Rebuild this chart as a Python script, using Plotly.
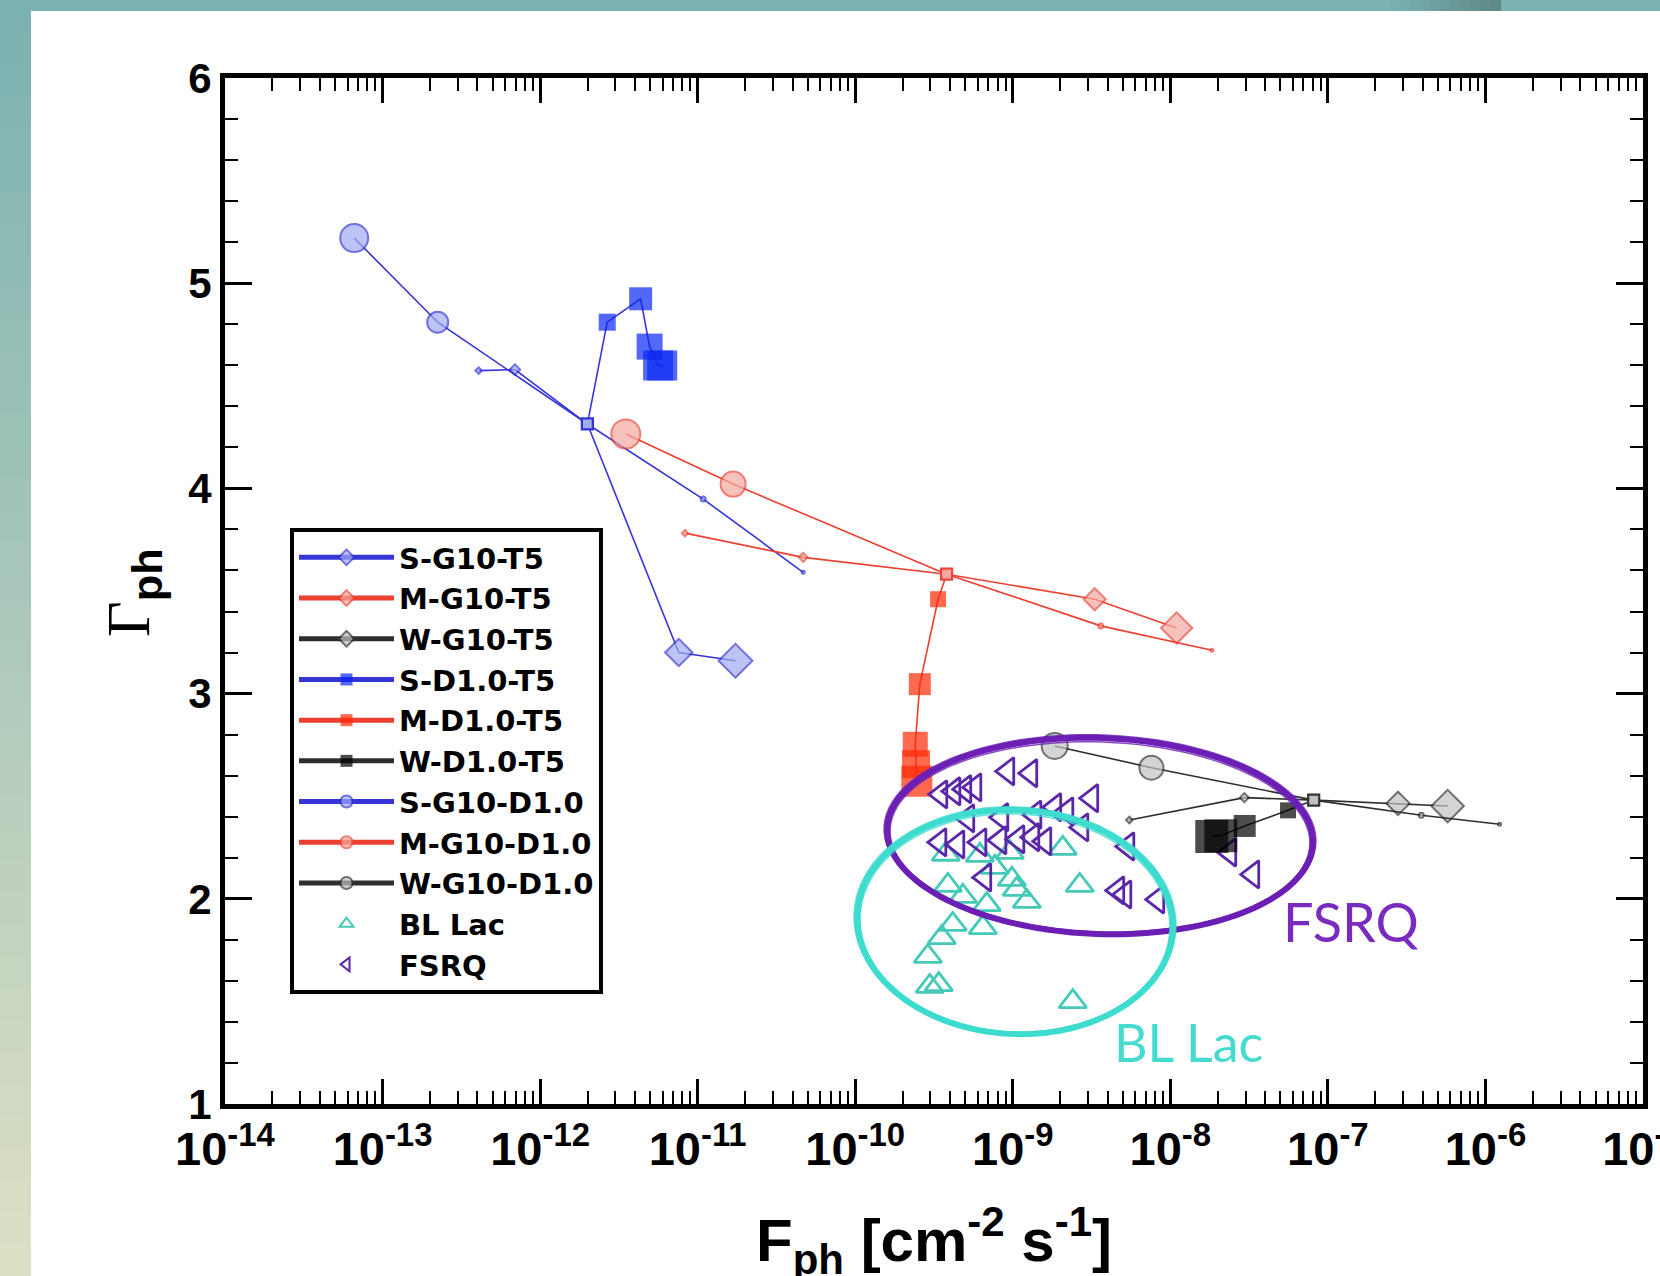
import math
import plotly.graph_objects as go

# ------------------------------------------------------------------
# DATA  (x values are log10 of photon flux F_ph, y values are Gamma_ph)
# ------------------------------------------------------------------
# common starting points of each model family
junction_logF = [-11.70, -9.42, -7.09]
junction_gamma = [4.314, 3.582, 2.481]

s_g10_t5_logF = [-12.39, -12.16, -11.70, -11.12, -10.76]
s_g10_t5_gamma = [4.574, 4.579, 4.314, 3.200, 3.160]
m_g10_t5_logF = [-11.08, -10.33, -9.42, -8.48, -7.96]
m_g10_t5_gamma = [3.782, 3.664, 3.582, 3.460, 3.320]
w_g10_t5_logF = [-8.26, -7.53, -7.09, -6.555, -6.24]
w_g10_t5_gamma = [2.384, 2.493, 2.481, 2.465, 2.452]

s_d10_t5_logF = [-11.70, -11.574, -11.362, -11.305, -11.251, -11.225]
s_d10_t5_gamma = [4.314, 4.810, 4.924, 4.691, 4.599, 4.599]
m_d10_t5_logF = [-9.42, -9.474, -9.590, -9.619, -9.614, -9.609]
m_d10_t5_gamma = [3.582, 3.460, 3.046, 2.753, 2.656, 2.573]
w_d10_t5_logF = [-7.09, -7.253, -7.528, -7.680, -7.737]
w_d10_t5_gamma = [2.481, 2.431, 2.355, 2.307, 2.304]

s_g10_d10_logF = [-10.33, -10.965, -11.70, -12.65, -13.18]
s_g10_d10_gamma = [3.591, 3.948, 4.314, 4.810, 5.220]
m_g10_d10_logF = [-7.736, -8.442, -9.42, -10.775, -11.456]
m_g10_d10_gamma = [3.211, 3.330, 3.582, 4.021, 4.265]
w_g10_d10_logF = [-5.91, -6.407, -7.09, -8.120, -8.734]
w_g10_d10_gamma = [2.363, 2.407, 2.481, 2.639, 2.745]

bllac_logF = [-9.425, -9.209, -9.019, -8.683, -9.412, -9.006, -8.575, -9.317,
              -8.975, -8.911, -9.165, -9.381, -9.190, -9.451, -9.539, -9.527,
              -9.470, -8.619, -9.114]
bllac_gamma = [2.217, 2.212, 2.226, 2.246, 2.065, 2.095, 2.065, 2.012,
               2.046, 1.987, 1.972, 1.875, 1.860, 1.811, 1.719, 1.573,
               1.582, 1.499, 2.153]

fsrq_logF = [-9.457, -9.374, -9.305, -9.241, -9.032, -8.886, -9.286, -9.070,
             -8.734, -8.499, -8.657, -8.562, -9.463, -9.349, -9.209, -9.082,
             -8.968, -8.873, -8.797, -9.178, -8.270, -8.334, -8.289, -8.080,
             -7.623, -7.477, -8.860]
fsrq_gamma = [2.509, 2.524, 2.534, 2.543, 2.621, 2.612, 2.392, 2.397,
              2.446, 2.490, 2.426, 2.348, 2.275, 2.265, 2.275, 2.285,
              2.290, 2.300, 2.280, 2.104, 2.255, 2.041, 2.021, 1.997,
              2.226, 2.119, 2.410]

x_tick_exponents = [-14, -13, -12, -11, -10, -9, -8, -7, -6, -5]
y_tick_values = [1, 2, 3, 4, 5, 6]

# marker sizes along each track (style)
size_g10_t5 = {"S": [5, 8, 0, 21, 26], "M": [5, 7, 0, 17, 24], "W": [5, 7, 0, 18, 25]}
size_d10_t5 = {"S": [0, 17, 23, 26, 30, 30], "M": [0, 16, 22, 25, 28, 31], "W": [0, 16, 22, 33, 33]}
size_g10_d10 = {"S": [3, 5, 0, 21, 28], "M": [3, 5, 0, 25, 29], "W": [3, 5, 0, 24, 26]}

# ------------------------------------------------------------------
W, H = 1660, 1276
PL, PR, PT, PB = 225, 1643, 78, 1104


def pxx(px):
    return (px - PL) / (PR - PL)


def pxy(py):
    return (PB - py) / (PB - PT)


COL = {
    "S": dict(line="#3535d8", hatch="#a2aaf0", edge="#3434d4", solid="#0a28f2"),
    "M": dict(line="#ec3f30", hatch="#f5a9a0", edge="#e8473a", solid="#ff2a05"),
    "W": dict(line="#2e2e2e", hatch="#c2c2c2", edge="#333333", solid="#000000"),
}
TEAL = "#45c9b8"
PURPLE = "#5a27a8"
SANS = "Liberation Sans"

fig = go.Figure()


def add_series(name, logF, gam, sizes, symbol, fam, kind, rank):
    c = COL[fam]
    if kind == "hatch":
        mk = dict(symbol=symbol, size=sizes, color=c["hatch"],
                  line=dict(color=c["edge"], width=2))
    else:
        mk = dict(symbol=symbol, size=sizes, color=c["solid"],
                  line=dict(color=c["solid"], width=0))
    fig.add_trace(go.Scatter(
        x=[10 ** v for v in logF], y=gam, name=name, mode="lines+markers",
        line=dict(color=c["line"], width=1.6), marker=mk, legendrank=rank))


rank_of = {"S": 0, "M": 1, "W": 2}


def add_family(f, a, b, c, d, e, g):
    r = rank_of[f]
    add_series(f"{f}-G10-T5", a, b, size_g10_t5[f], "diamond", f, "hatch", 1 + r)
    add_series(f"{f}-D1.0-T5", c, d, size_d10_t5[f], "square", f, "solid", 4 + r)
    add_series(f"{f}-G10-D1.0", e, g, size_g10_d10[f], "circle", f, "hatch", 7 + r)


add_family("S", s_g10_t5_logF, s_g10_t5_gamma, s_d10_t5_logF, s_d10_t5_gamma,
           s_g10_d10_logF, s_g10_d10_gamma)
add_family("M", m_g10_t5_logF, m_g10_t5_gamma, m_d10_t5_logF, m_d10_t5_gamma,
           m_g10_d10_logF, m_g10_d10_gamma)

fig.add_trace(go.Scatter(
    x=[10 ** v for v in bllac_logF], y=bllac_gamma, name="BL Lac", mode="markers",
    marker=dict(symbol="triangle-up-open", size=24, color=TEAL, line=dict(width=2.8)),
    legendrank=10))
fig.add_trace(go.Scatter(
    x=[10 ** v for v in fsrq_logF], y=fsrq_gamma, name="FSRQ", mode="markers",
    marker=dict(symbol="triangle-left-open", size=24, color=PURPLE, line=dict(width=2.8)),
    legendrank=11))

add_family("W", w_g10_t5_logF, w_g10_t5_gamma, w_d10_t5_logF, w_d10_t5_gamma,
           w_g10_d10_logF, w_g10_d10_gamma)

# starting-point markers
fig.add_trace(go.Scatter(
    x=[10 ** v for v in junction_logF], y=junction_gamma, mode="markers", showlegend=False,
    marker=dict(symbol="square", size=11, color=[COL[k]["hatch"] for k in "SMW"],
                line=dict(color=[COL[k]["edge"] for k in "SMW"], width=2.2))))

# ------------------------------------------------------------------
# decorations: page background strips, hand-drawn ellipses, labels
shapes = []
shapes.append(dict(type="rect", xref="paper", yref="paper", layer="below",
                   x0=pxx(0), x1=pxx(W), y0=pxy(11), y1=pxy(0),
                   fillcolor="#7cb3b2", line=dict(width=0)))
for i in range(12):
    t = i / 11
    col = (int(124 - 30 * t), int(179 - 40 * t), int(178 - 40 * t))
    shapes.append(dict(type="rect", xref="paper", yref="paper", layer="below",
                       x0=pxx(1380 + i * 10), x1=pxx(1391 + i * 10), y0=pxy(11), y1=pxy(0),
                       fillcolor="rgb(%d,%d,%d)" % col, line=dict(width=0)))
nstr = 40
c_top = (123, 178, 177)
c_bot = (221, 223, 196)
for i in range(nstr):
    t = i / (nstr - 1)
    col = tuple(int(round(c_top[k] + (c_bot[k] - c_top[k]) * t)) for k in range(3))
    y0 = H * i / nstr
    y1 = H * (i + 1) / nstr + 1
    shapes.append(dict(type="rect", xref="paper", yref="paper", layer="below",
                       x0=pxx(0), x1=pxx(31), y0=pxy(y1), y1=pxy(y0),
                       fillcolor="rgb(%d,%d,%d)" % col, line=dict(width=0)))


def ellipse_path(cx, cy, a, b, theta_deg, n=160):
    th = math.radians(theta_deg)
    pts = []
    for i in range(n + 1):
        t = 2 * math.pi * i / n
        x = cx + a * math.cos(t) * math.cos(th) - b * math.sin(t) * math.sin(th)
        y = cy + a * math.cos(t) * math.sin(th) + b * math.sin(t) * math.cos(th)
        pts.append((pxx(x), pxy(y)))
    return "M " + " L ".join("%.5f,%.5f" % p for p in pts) + " Z"


def brush(cx, cy, a, b, th, color):
    out = [dict(type="path", xref="paper", yref="paper", layer="above",
                path=ellipse_path(cx, cy, a, b, th), line=dict(color=color, width=6))]
    for da, db, dy, w in [(3, 2, -1, 1.5), (-3, -3, 1, 1.5)]:
        out.append(dict(type="path", xref="paper", yref="paper", layer="above",
                        path=ellipse_path(cx, cy + dy, a + da, b + db, th),
                        line=dict(color=color, width=w), opacity=0.8))
    return out


shapes += brush(1100, 836, 213, 98, 2, "#6c1fb4")
shapes += brush(1015, 922, 158, 112, 3, "#3ddccf")

annotations = [
    dict(text="FSRQ", xref="paper", yref="paper", x=pxx(1351), y=pxy(921),
         xanchor="center", yanchor="middle", showarrow=False,
         font=dict(family="Lato", size=54, color="#7a2bbf")),
    dict(text="BL Lac", xref="paper", yref="paper", x=pxx(1188), y=pxy(1042),
         xanchor="center", yanchor="middle", showarrow=False,
         font=dict(family="Lato", size=52, color="#46dbcf")),
    dict(text="<b>F<sub>ph</sub> [cm<sup>-2</sup> s<sup>-1</sup>]</b>", xref="paper", yref="paper",
         x=pxx(934), y=pxy(1240), xanchor="center", yanchor="middle", showarrow=False,
         font=dict(family=SANS, size=60, color="black")),
    dict(text='<span style="font-family:Liberation Serif">Γ</span><b><sub>ph</sub></b>',
         xref="paper", yref="paper", x=pxx(132), y=pxy(593), textangle=-90,
         xanchor="center", yanchor="middle", showarrow=False,
         font=dict(family=SANS, size=62, color="black")),
]

minor_x = [m * 10.0 ** k for k in range(-14, -5) for m in range(2, 10)]

fig.update_layout(
    width=W, height=H,
    margin=dict(l=PL, r=W - PR, t=PT, b=H - PB, autoexpand=False),
    paper_bgcolor="white", plot_bgcolor="white",
    shapes=shapes, annotations=annotations,
    showlegend=True,
    legend=dict(x=pxx(290), y=pxy(528), xanchor="left", yanchor="top",
                bgcolor="white", bordercolor="black", borderwidth=4,
                font=dict(family="DejaVu Sans", size=29, color="black", weight="bold"),
                itemwidth=95, itemsizing="constant", tracegroupgap=0, traceorder="normal"),
    xaxis=dict(type="log", range=[-14, -5], tickmode="array",
               tickvals=[10.0 ** e for e in x_tick_exponents],
               ticktext=["10<sup>%d</sup>" % e for e in x_tick_exponents],
               ticks="inside", ticklen=25, tickwidth=3, tickcolor="black",
               showline=True, linewidth=5, linecolor="black", mirror="allticks",
               showgrid=False, zeroline=False, ticklabeloverflow="allow",
               tickfont=dict(family=SANS, size=47, color="black", weight="bold"),
               minor=dict(tickmode="array", tickvals=minor_x, ticks="inside", ticklen=13,
                          tickwidth=2, tickcolor="black", showgrid=False)),
    yaxis=dict(range=[1, 6], tickmode="array", tickvals=y_tick_values,
               ticks="inside", ticklen=27, tickwidth=3, tickcolor="black",
               showline=True, linewidth=5, linecolor="black", mirror="allticks",
               showgrid=False, zeroline=False, ticklabeloverflow="allow",
               tickfont=dict(family=SANS, size=42, color="black", weight="bold"),
               minor=dict(dtick=0.2, ticks="inside", ticklen=13, tickwidth=2,
                          tickcolor="black", showgrid=False)),
)

fig.write_html("out.html",
               config={"displayModeBar": False},
               post_script="document.body.style.margin='0px';"
                           "document.body.style.padding='0px';"
                           "document.body.style.overflow='hidden';")
